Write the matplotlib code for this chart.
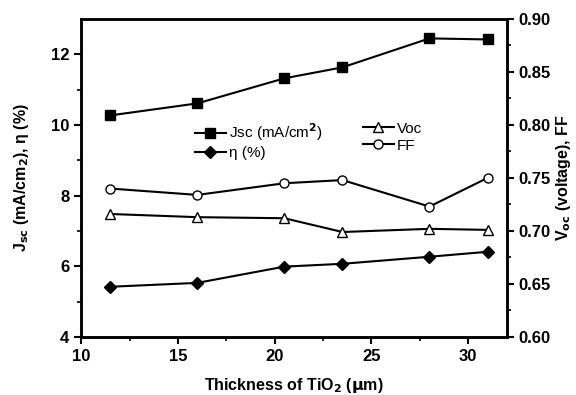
import matplotlib.pyplot as plt
from matplotlib.lines import Line2D

plt.rcParams['font.family'] = ['Liberation Sans', 'DejaVu Sans']
plt.rcParams['font.weight'] = 'bold'

# Data
thickness = [11.5, 16, 20.5, 23.5, 28, 31]
jsc = [10.27, 10.61, 11.32, 11.63, 12.45, 12.42]
eta = [5.42, 5.53, 5.99, 6.07, 6.27, 6.41]
voc = [0.716, 0.713, 0.712, 0.699, 0.702, 0.701]
ff = [0.740, 0.734, 0.745, 0.748, 0.723, 0.750]

fig, ax = plt.subplots(figsize=(5.76, 3.95), dpi=100)
fig.subplots_adjust(left=0.141, right=0.88, top=0.952, bottom=0.147)

ax.plot(thickness, jsc, color='black', marker='s', markersize=6.5, lw=1.5)
ax.plot(thickness, eta, color='black', marker='D', markersize=6.5, lw=1.5)
ax.set_xlim(10, 32)
ax.set_ylim(4, 13)
ax.set_xticks([10, 15, 20, 25, 30])
ax.set_xticks([12.5, 17.5, 22.5, 27.5], minor=True)
ax.set_yticks([4, 6, 8, 10, 12])
ax.set_yticks([5, 7, 9, 11], minor=True)
ax.set_xlabel('Thickness of TiO$_\\mathbf{2}$ ($\\mathbf{\\mu}$m)', fontsize=11.5,
              fontweight='bold', labelpad=9)
ax.set_ylabel('J$_\\mathbf{sc}$ (mA/cm$_\\mathbf{2}$), η (%)', fontsize=11.5,
              fontweight='bold', labelpad=14)

ax2 = ax.twinx()
ax2.plot(thickness, voc, color='black', marker='^', markersize=7.5, lw=1.5,
         markerfacecolor='white')
ax2.plot(thickness, ff, color='black', marker='o', markersize=6.5, lw=1.5,
         markerfacecolor='white')
ax2.set_ylim(0.60, 0.90)
ax2.set_yticks([0.60, 0.65, 0.70, 0.75, 0.80, 0.85, 0.90])
ax2.set_yticklabels(['0.60', '0.65', '0.70', '0.75', '0.80', '0.85', '0.90'])
ax2.set_yticks([0.625, 0.675, 0.725, 0.775, 0.825, 0.875], minor=True)
ax2.set_ylabel('V$_\\mathbf{oc}$ (voltage), FF', fontsize=11.5, fontweight='bold',
               labelpad=2)

for a in (ax, ax2):
    for s in a.spines.values():
        s.set_linewidth(1.8)
    a.tick_params(which='major', direction='out', length=5, width=1.5, labelsize=12)
    a.tick_params(which='minor', direction='out', length=3, width=1.2)

h1 = Line2D([], [], color='black', marker='s', markersize=6.5, lw=1.5)
h2 = Line2D([], [], color='black', marker='D', markersize=6.5, lw=1.5)
h3 = Line2D([], [], color='black', marker='^', markersize=7.5, lw=1.5, markerfacecolor='white')
h4 = Line2D([], [], color='black', marker='o', markersize=6.5, lw=1.5, markerfacecolor='white')
leg1 = ax.legend([h1, h2], ['Jsc (mA/cm$^2$)', 'η (%)'], loc='upper left',
                 bbox_to_anchor=(0.235, 0.72), frameon=False, handlelength=2,
                 handletextpad=0.2, labelspacing=0.2, prop={'weight': 'normal', 'size': 11})
ax.add_artist(leg1)
ax.legend([h3, h4], ['Voc', 'FF'], loc='upper left',
          bbox_to_anchor=(0.63, 0.72), frameon=False, handlelength=2,
          handletextpad=0.2, labelspacing=0.2, prop={'weight': 'normal', 'size': 11})

fig.savefig('out.png', dpi=100)
